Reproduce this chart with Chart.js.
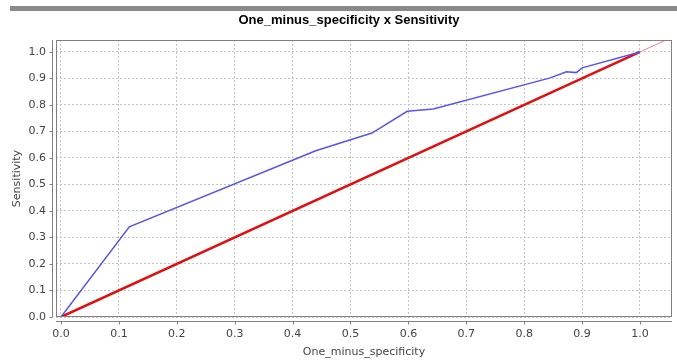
<!DOCTYPE html>
<html>
<head>
<meta charset="utf-8">
<title>One_minus_specificity x Sensitivity</title>
<script src="https://cdn.jsdelivr.net/npm/chart.js@4.4.0/dist/chart.umd.min.js"></script>
<style>
  body { margin: 0; background: #fff; }
</style>
</head>
<body>
<canvas id="rocChart" width="677" height="361"></canvas>
<script>
const chartTitle = "One_minus_specificity x Sensitivity";
const xLabel = "One_minus_specificity";
const yLabel = "Sensitivity";

const xTicks = [0.0, 0.1, 0.2, 0.3, 0.4, 0.5, 0.6, 0.7, 0.8, 0.9, 1.0];
const yTicks = [0.0, 0.1, 0.2, 0.3, 0.4, 0.5, 0.6, 0.7, 0.8, 0.9, 1.0];

// ROC curve points
const fprValues = [0, 0.118, 0.44, 0.537, 0.598, 0.643, 0.845, 0.873, 0.89, 0.9, 1.0];
const tprValues = [0, 0.34, 0.627, 0.694, 0.776, 0.785, 0.902, 0.925, 0.922, 0.94, 1.0];

// chance line and its thin extension past 1.0
const diagonal = [0, 1];
const diagonalExt = [1, 1.1];

const axisGray = "#808080";
const textGray = "#444444";

function toPoints(xs, ys) {
  return xs.map((x, i) => ({ x: x, y: ys[i] }));
}

// frame, offset axis lines, tick marks, title and the bar on top
const plotFrame = {
  id: "plotFrame",
  afterDraw(chart) {
    const ctx = chart.ctx;
    const area = chart.chartArea;
    const xs = chart.scales.x;
    const ys = chart.scales.y;
    ctx.save();

    ctx.fillStyle = "#8a8a8a";
    ctx.fillRect(10, 6, chart.width - 10, 5);

    ctx.fillStyle = "#000";
    ctx.font = 'bold 13px "Liberation Sans", Arial, sans-serif';
    ctx.textAlign = "center";
    ctx.textBaseline = "middle";
    ctx.fillText(chartTitle, 349, 20);

    ctx.strokeStyle = axisGray;
    ctx.lineWidth = 1;
    ctx.strokeRect(area.left + 0.5, area.top + 0.5, area.width - 1, area.height - 1);

    // y axis line + ticks
    const ax = Math.round(area.left) - 3.5;
    ctx.beginPath();
    ctx.moveTo(ax, area.top);
    ctx.lineTo(ax, area.bottom);
    yTicks.forEach((v) => {
      const py = Math.round(ys.getPixelForValue(v)) + 0.5;
      ctx.moveTo(ax - 3, py);
      ctx.lineTo(ax, py);
    });
    // x axis line + ticks
    const ay = Math.round(area.bottom) + 4.5;
    ctx.moveTo(area.left, ay);
    ctx.lineTo(area.right, ay);
    xTicks.forEach((v) => {
      const px = Math.round(xs.getPixelForValue(v)) + 0.5;
      ctx.moveTo(px, ay);
      ctx.lineTo(px, ay + 3);
    });
    ctx.stroke();
    ctx.restore();
  },
};

const ctx = document.getElementById("rocChart").getContext("2d");
const rocChart = new Chart(ctx, {
  type: "line",
  data: {
    datasets: [
      {
        data: toPoints(diagonalExt, diagonalExt),
        borderColor: "#ff8080",
        borderWidth: 1,
        pointRadius: 0,
      },
      {
        data: toPoints(fprValues, tprValues),
        borderColor: "#5555ee",
        borderWidth: 1.5,
        pointRadius: 0,
      },
      {
        data: toPoints(diagonal, diagonal),
        borderColor: "#e01010",
        borderWidth: 2.5,
        pointRadius: 0,
      },
    ],
  },
  options: {
    responsive: false,
    animation: false,
    devicePixelRatio: 1,
    layout: { padding: { top: 40, right: 5, left: 0, bottom: 0 } },
    plugins: {
      legend: { display: false },
      tooltip: { enabled: false },
      title: { display: false },
    },
    scales: {
      x: {
        type: "linear",
        min: -0.0086,
        max: 1.0553,
        afterBuildTicks: (scale) => {
          scale.ticks = xTicks.map((v) => ({ value: v }));
        },
        afterFit: (scale) => {
          scale.height = 44;
        },
        grid: { color: "#c4c4c4", drawTicks: false },
        border: { display: false, dash: [2, 2] },
        ticks: {
          padding: 11,
          color: textGray,
          font: { family: "DejaVu Sans", size: 11 },
          maxRotation: 0,
          callback: (v) => Number(v).toFixed(1),
        },
        title: {
          display: true,
          text: xLabel,
          color: textGray,
          font: { family: "DejaVu Sans", size: 11 },
          padding: { top: 0, bottom: 2 },
        },
      },
      y: {
        type: "linear",
        min: 0,
        max: 1.045,
        afterBuildTicks: (scale) => {
          scale.ticks = yTicks.map((v) => ({ value: v }));
        },
        afterFit: (scale) => {
          scale.width = 56;
        },
        grid: { color: "#c4c4c4", drawTicks: false },
        border: { display: false, dash: [2, 2] },
        ticks: {
          padding: 10,
          color: textGray,
          font: { family: "DejaVu Sans", size: 11 },
          callback: (v) => Number(v).toFixed(1),
        },
        title: {
          display: true,
          text: yLabel,
          color: textGray,
          font: { family: "DejaVu Sans", size: 11 },
          padding: { top: 11, bottom: 0 },
        },
      },
    },
  },
  plugins: [plotFrame],
});
</script>
</body>
</html>
